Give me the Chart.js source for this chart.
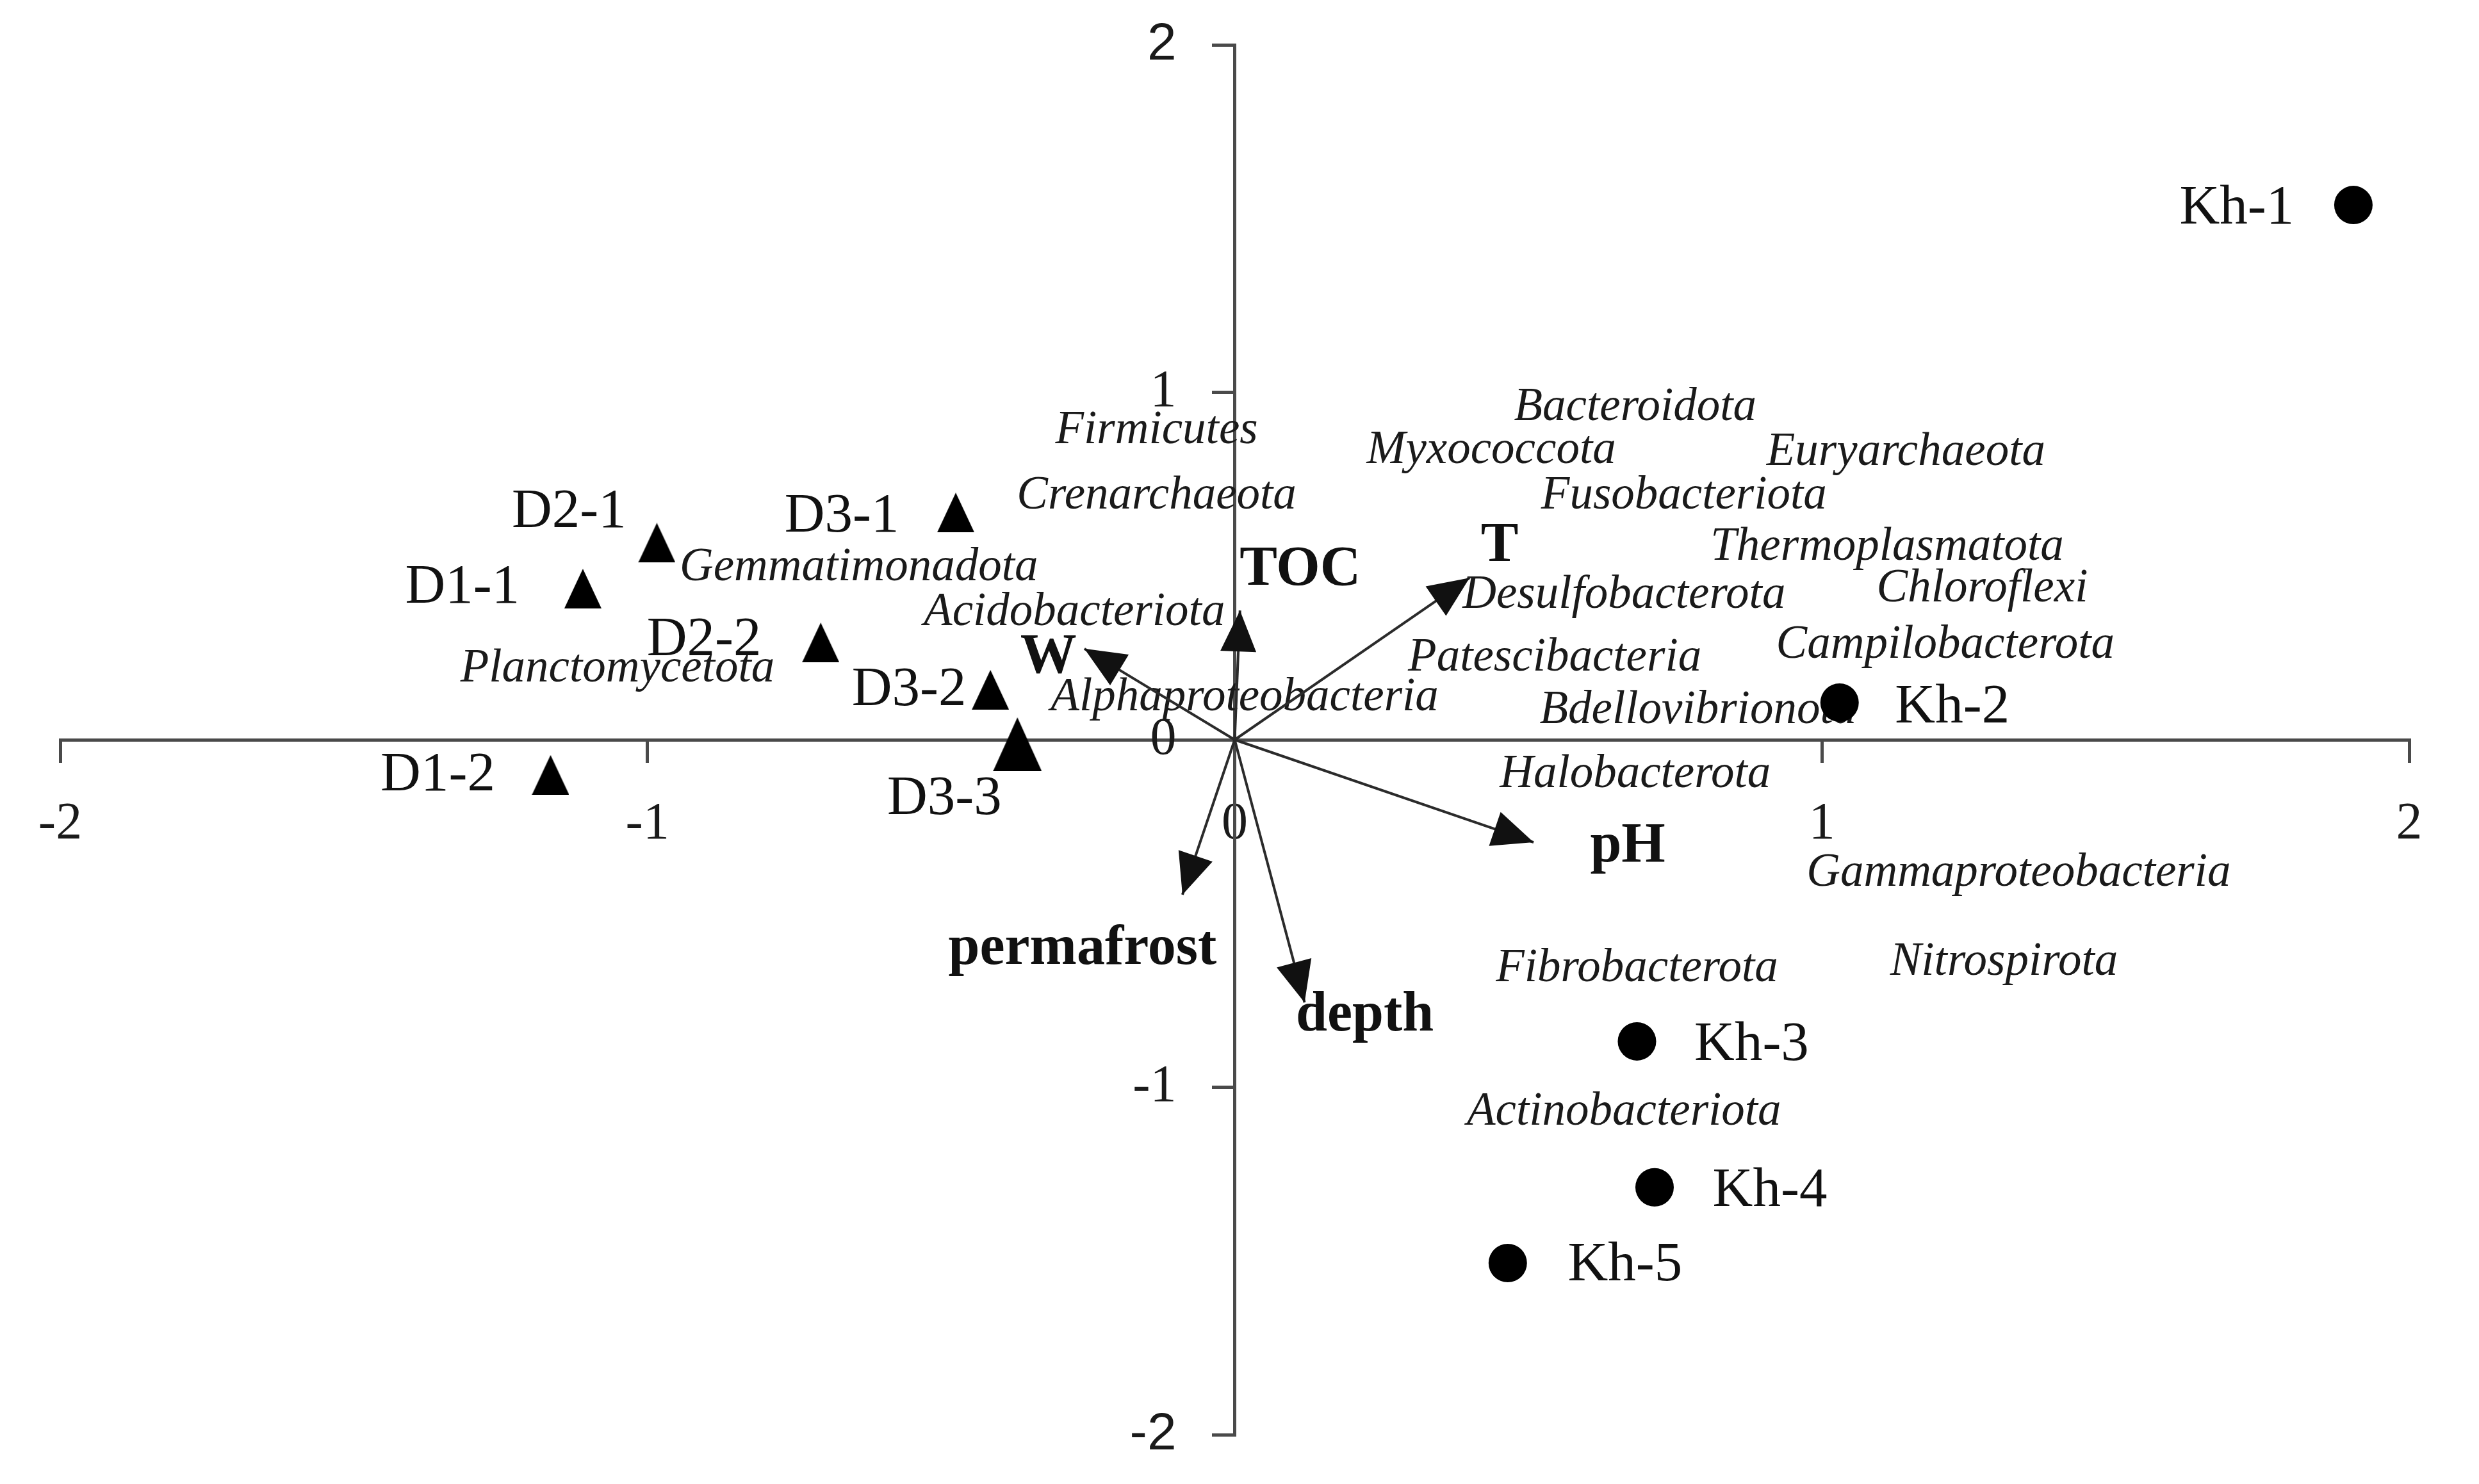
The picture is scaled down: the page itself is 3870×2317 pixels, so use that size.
<!DOCTYPE html>
<html>
<head>
<meta charset="utf-8">
<script src="https://cdn.jsdelivr.net/npm/chart.js@4.4.1/dist/chart.umd.min.js"></script>
<style>
  html, body { margin: 0; padding: 0; background: #fff; }
  #wrap { width: 3870px; height: 2317px; }
</style>
</head>
<body>
<div id="wrap"><canvas id="rda"></canvas></div>
<script>
// sample scores (axis 1, axis 2)
const dSamples = ['D1-1', 'D1-2', 'D2-1', 'D2-2', 'D3-1', 'D3-2', 'D3-3'];
const dX = [-1.110, -1.165, -0.984, -0.705, -0.475, -0.416, -0.370];
const dY = [0.435, -0.101, 0.567, 0.280, 0.654, 0.144, -0.013];

const khSamples = ['Kh-1', 'Kh-2', 'Kh-3', 'Kh-4', 'Kh-5'];
const khX = [1.905, 1.030, 0.685, 0.715, 0.465];
const khY = [1.539, 0.107, -0.868, -1.288, -1.506];

// environmental factor vectors (arrow tips)
const envVars = ['TOC', 'T', 'W', 'pH', 'permafrost', 'depth'];
const envX = [0.009, 0.400, -0.256, 0.509, -0.089, 0.119];
const envY = [0.372, 0.466, 0.262, -0.295, -0.446, -0.756];

// phylum scores
const taxa = ['Firmicutes', 'Bacteroidota', 'Myxococcota', 'Euryarchaeota', 'Crenarchaeota',
  'Fusobacteriota', 'Gemmatimonadota', 'Thermoplasmatota', 'Chloroflexi', 'Acidobacteriota',
  'Desulfobacterota', 'Patescibacteria', 'Campilobacterota', 'Planctomycetota',
  'Alphaproteobacteria', 'Bdellovibrionota', 'Halobacterota', 'Gammaproteobacteria',
  'Nitrospirota', 'Fibrobacterota', 'Actinobacteriota'];
const taxaX = [-0.133, 0.682, 0.437, 1.143, -0.133, 0.765, -0.640, 1.111, 1.273, -0.273,
  0.663, 0.545, 1.210, -1.051, 0.017, 0.789, 0.682, 1.335, 1.310, 0.685, 0.663];
const taxaY = [0.888, 0.955, 0.831, 0.826, 0.700, 0.700, 0.494, 0.553, 0.433, 0.365,
  0.415, 0.234, 0.271, 0.203, 0.120, 0.083, -0.101, -0.385, -0.641, -0.660, -1.073];

const axisMin = -2;
const axisMax = 2;

// label offsets in pixels from the marker / arrow tip
const dLabelShift = [[-188, -1], [-176, 1], [-137, -47], [-182, -3], [-178, 7], [-127, 1], [-114, 86]];
const khLabelShift = [[-182, 6], [176, 8], [179, 6], [180, 6], [183, 4]];
const envLabelShift = [[94, -63], [47, -49], [-56, 14], [147, 7], [-156, 85], [94, 21]];

const AXIS_COLOR = '#4a4a4a';
const SERIF = '"Liberation Serif", "DejaVu Serif", serif';

function triangleImage(w, h) {
  const c = document.createElement('canvas');
  c.width = w;
  c.height = h;
  const g = c.getContext('2d');
  g.fillStyle = '#000';
  g.beginPath();
  g.moveTo(w / 2, 0);
  g.lineTo(w, h);
  g.lineTo(0, h);
  g.closePath();
  g.fill();
  return c;
}

const smallTri = triangleImage(58, 62);
const bigTri = triangleImage(76, 84);

const toPoints = (xs, ys) => xs.map((x, i) => ({ x: x, y: ys[i] }));

const envDatasets = envVars.map((name, i) => ({
  label: name,
  data: [{ x: 0, y: 0 }, { x: envX[i], y: envY[i] }],
  showLine: true,
  borderColor: '#2b2b2b',
  borderWidth: 4,
  pointRadius: 0,
  order: 2
}));

const biplotText = {
  id: 'biplotText',
  beforeDatasetsDraw(chart) {
    // phylum names go under the arrows and markers
    const ctx = chart.ctx;
    const meta = chart.getDatasetMeta(chart.data.datasets.length - 1);
    ctx.save();
    ctx.font = 'italic 73px ' + SERIF;
    ctx.fillStyle = '#1a1a1a';
    ctx.textAlign = 'center';
    ctx.textBaseline = 'middle';
    meta.data.forEach((pt, i) => ctx.fillText(taxa[i], pt.x, pt.y));
    ctx.restore();
  },
  afterDatasetsDraw(chart) {
    const ctx = chart.ctx;
    ctx.save();
    ctx.textAlign = 'center';
    ctx.textBaseline = 'middle';
    ctx.fillStyle = '#111';

    // arrowheads and factor names
    ctx.font = 'bold 88px ' + SERIF;
    envVars.forEach((name, i) => {
      const pts = chart.getDatasetMeta(2 + i).data;
      const a = pts[0], b = pts[1];
      const ang = Math.atan2(b.y - a.y, b.x - a.x);
      const len = 64, half = 28;
      const bx = b.x - len * Math.cos(ang), by = b.y - len * Math.sin(ang);
      ctx.beginPath();
      ctx.moveTo(b.x, b.y);
      ctx.lineTo(bx + half * Math.sin(ang), by - half * Math.cos(ang));
      ctx.lineTo(bx - half * Math.sin(ang), by + half * Math.cos(ang));
      ctx.closePath();
      ctx.fill();
      ctx.fillText(name, b.x + envLabelShift[i][0], b.y + envLabelShift[i][1]);
    });

    // sample names
    ctx.font = '87px ' + SERIF;
    chart.getDatasetMeta(0).data.forEach((pt, i) => {
      ctx.fillText(dSamples[i], pt.x + dLabelShift[i][0], pt.y + dLabelShift[i][1]);
    });
    chart.getDatasetMeta(1).data.forEach((pt, i) => {
      ctx.fillText(khSamples[i], pt.x + khLabelShift[i][0], pt.y + khLabelShift[i][1]);
    });
    ctx.restore();
  }
};

// centred axes should not push the plot area inwards
const noEdgePadding = scale => {
  scale.paddingLeft = 0;
  scale.paddingRight = 0;
  scale.paddingTop = 0;
  scale.paddingBottom = 0;
};

new Chart(document.getElementById('rda'), {
  type: 'scatter',
  data: {
    datasets: [
      {
        label: 'D',
        data: toPoints(dX, dY),
        pointStyle: dSamples.map(s => s === 'D3-3' ? bigTri : smallTri),
        pointRadius: 30,
        order: 0
      },
      {
        label: 'Kh',
        data: toPoints(khX, khY),
        pointStyle: 'circle',
        pointRadius: 30,
        backgroundColor: '#000',
        borderWidth: 0,
        order: 0
      },
      ...envDatasets,
      {
        label: 'phyla',
        data: toPoints(taxaX, taxaY),
        pointRadius: 0,
        order: 3
      }
    ]
  },
  options: {
    responsive: true,
    maintainAspectRatio: false,
    animation: false,
    devicePixelRatio: 1,
    clip: false,
    layout: { padding: { left: 94, right: 109, top: 70, bottom: 77 } },
    plugins: {
      legend: { display: false },
      tooltip: { enabled: false }
    },
    scales: {
      x: {
        type: 'linear',
        position: 'center',
        min: axisMin,
        max: axisMax,
        afterFit: noEdgePadding,
        border: { display: true, color: AXIS_COLOR, width: 5 },
        grid: { drawOnChartArea: false, drawTicks: true, tickLength: 33, color: AXIS_COLOR, lineWidth: 5 },
        ticks: {
          stepSize: 1,
          padding: 50,
          color: '#1a1a1a',
          font: { family: SERIF, size: 82 }
        }
      },
      y: {
        type: 'linear',
        position: 'center',
        min: axisMin,
        max: axisMax,
        afterFit: noEdgePadding,
        border: { display: true, color: AXIS_COLOR, width: 5 },
        grid: { drawOnChartArea: false, drawTicks: true, tickLength: 33, color: AXIS_COLOR, lineWidth: 5 },
        ticks: {
          stepSize: 1,
          padding: 58,
          color: '#1a1a1a',
          font: ctx => ({
            family: Math.abs(ctx.tick && ctx.tick.value) === 2 ? '"Liberation Sans", Arial, sans-serif' : SERIF,
            size: 82
          })
        }
      }
    }
  },
  plugins: [biplotText]
});
</script>
</body>
</html>
